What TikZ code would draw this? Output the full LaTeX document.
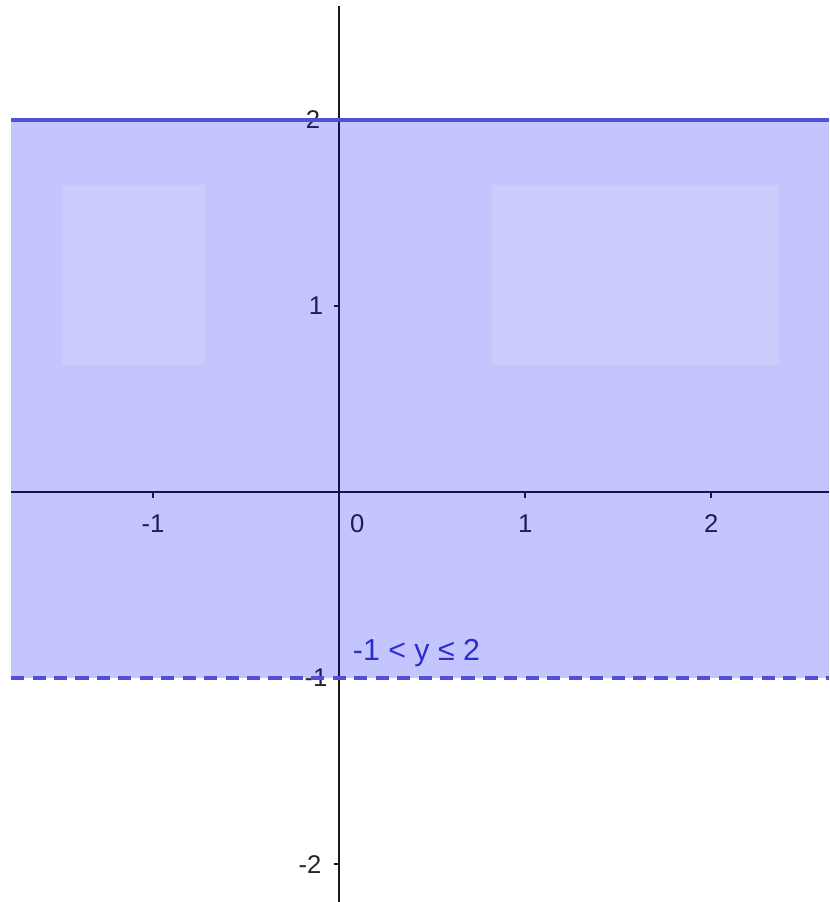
\documentclass[tikz,border=0pt]{standalone}
\usepackage{fontspec}
\setmainfont{Liberation Sans}
\definecolor{bandblue}{RGB}{0,0,255}
\definecolor{edgeblue}{RGB}{80,80,215}
\definecolor{paleblue}{RGB}{203,203,252}
\definecolor{textblue}{RGB}{45,45,205}
\tikzset{
  axisline/.style={line width=1pt, black!90},
  tickmark/.style={line width=0.9pt, black!90},
  ticklabel/.style={font=\fontsize{9.8}{11}\selectfont, inner sep=1.5pt, text=black!85},
}
\begin{document}
\begin{tikzpicture}[x=2.5cm, y=2.5cm, line width=0.6pt]
  \useasboundingbox (-1.823,-2.204) rectangle (2.634,2.645);
  % axes
  \coordinate (xl) at (-1.763,0.000);
  \coordinate (xr) at (2.634,0.000);
  \coordinate (yb) at (0.000,-2.204);
  \coordinate (yt) at (0.000,2.613);
  \draw[axisline] (xl) -- (xr);
  \draw[axisline] (yb) -- (yt);
  % ticks
  \foreach \x in {-1,1,2} \draw[tickmark] (\x,0) -- (\x,-0.03);
  \foreach \y in {-2,-1,1,2} \draw[tickmark] (0,\y) -- (-0.03,\y);
  \node[ticklabel] (xm1) at (-1.000,-0.168) {-1};
  \node[ticklabel] (x0) at (0.097,-0.168) {0};
  \node[ticklabel] (x1) at (1.000,-0.168) {1};
  \node[ticklabel] (x2) at (2.000,-0.168) {2};
  \node[ticklabel] (y2) at (-0.140,2.000) {2};
  \node[ticklabel] (y1) at (-0.124,1.000) {1};
  \node[ticklabel] (ym1) at (-0.124,-1.000) {-1};
  \node[ticklabel] (ym2) at (-0.156,-2.000) {-2};
  % the band -1 < y <= 2
  \fill[bandblue, opacity=0.23] (-1.763,-1.000) rectangle (2.634,2.000);
  \fill[paleblue] (-1.489,0.683) rectangle (-0.720,1.651);
  \fill[paleblue] (0.823,0.683) rectangle (2.366,1.651);
  \draw[edgeblue, line width=1.3pt] (-1.763,2.000) -- (2.634,2.000);
  \draw[edgeblue, line width=1.3pt, dash pattern=on 5pt off 3.2pt] (-1.763,-1.000) -- (2.634,-1.000);
  \node[anchor=south west, inner sep=0pt, text=textblue, font=\fontsize{11.6}{13}\selectfont] (band) at (0.070,-0.945) {-1 < y ≤ 2};
\end{tikzpicture}
\end{document}
